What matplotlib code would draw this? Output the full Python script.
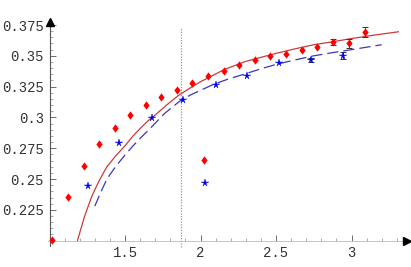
import matplotlib
matplotlib.use('Agg')
import matplotlib.pyplot as plt
from matplotlib.ticker import FixedLocator

# --- data ---
red_x = [1.017, 1.122, 1.226, 1.328, 1.432, 1.535, 1.637, 1.740, 1.844, 1.946, 2.050,
         2.154, 2.256, 2.361, 2.462, 2.568, 2.670, 2.774, 2.877, 2.981, 3.087]
red_y = [0.2005, 0.2354, 0.2603, 0.2787, 0.2914, 0.3020, 0.3098, 0.3163, 0.3225, 0.3282,
         0.3334, 0.3377, 0.3428, 0.3466, 0.3501, 0.3517, 0.3547, 0.3571, 0.3612, 0.3601, 0.3693]
red_err = [0, 0, 0, 0, 0, 0, 0, 0, 0, 0, 0, 0, 0, 0, 0, 0, 0, 0, 0.0025, 0.0037, 0.0043]

blue_x = [1.255, 1.462, 1.677, 1.886, 2.101, 2.308, 2.518, 2.732, 2.946]
blue_y = [0.2443, 0.2790, 0.2998, 0.3141, 0.3261, 0.3339, 0.3439, 0.3466, 0.3501]
blue_err = [0, 0, 0, 0, 0, 0, 0, 0.0019, 0.0028]

# isolated points near x = 2
red_out = (2.023, 0.2652)
blue_out = (2.030, 0.2470)

# fitted curves
red_fit_x = [1.185, 1.23, 1.28, 1.33, 1.38, 1.44, 1.50, 1.55, 1.60, 1.65, 1.70, 1.78, 1.85,
             1.92, 2.00, 2.08, 2.16, 2.30, 2.50, 2.62, 2.75, 2.88, 3.00, 3.15, 3.31]
red_fit_y = [0.200, 0.219, 0.236, 0.249, 0.260, 0.269, 0.277, 0.2845, 0.291, 0.297, 0.302,
             0.3105, 0.3175, 0.323, 0.329, 0.334, 0.339, 0.3455, 0.352, 0.3555, 0.359,
             0.3615, 0.364, 0.3668, 0.3695]

blue_fit_x = [1.30, 1.34, 1.38, 1.44, 1.50, 1.55, 1.60, 1.67, 1.76, 1.86, 1.93, 2.00, 2.09,
              2.18, 2.30, 2.40, 2.50, 2.62, 2.75, 2.88, 3.00, 3.10, 3.20]
blue_fit_y = [0.228, 0.2395, 0.250, 0.2605, 0.2695, 0.2765, 0.283, 0.2915, 0.303, 0.313,
              0.318, 0.322, 0.327, 0.331, 0.3355, 0.3395, 0.343, 0.3465, 0.350, 0.3527,
              0.355, 0.357, 0.359]

x_cut = 1.87

x_major = [1.5, 2.0, 2.5, 3.0]
x_labels = ['1.5', '2', '2.5', '3']
y_major = [0.225, 0.25, 0.275, 0.3, 0.325, 0.35, 0.375]
y_labels = ['0.225', '0.25', '0.275', '0.3', '0.325', '0.35', '0.375']

x0, y0 = 1.0, 0.2

diamond = [(0, 1), (0.75, 0), (0, -1), (-0.75, 0), (0, 1)]

fig = plt.figure(figsize=(4.11, 2.67), dpi=100)
ax = fig.add_axes([0, 0, 1, 1])
ax.set_xlim(0.672, 3.394)
ax.set_ylim(0.1786, 0.3953)

# Mathematica-style crossing axes
for s in ['top', 'right']:
    ax.spines[s].set_visible(False)
ax.spines['left'].set_position(('data', x0))
ax.spines['bottom'].set_position(('data', y0))
ax.spines['left'].set_bounds(0.196, 0.377)
ax.spines['bottom'].set_bounds(0.99, 3.36)
ax.spines['left'].set_color('#555555')
ax.spines['bottom'].set_color('#bbbbbb')
ax.spines['left'].set_linewidth(0.8)
ax.spines['bottom'].set_linewidth(0.6)
ax.plot(x0, 0.3772, marker='^', ms=6, color='black', clip_on=False, zorder=5)
ax.plot(3.365, y0, marker='>', ms=6, color='black', clip_on=False, zorder=5)

ax.xaxis.set_major_locator(FixedLocator(x_major))
ax.set_xticklabels(x_labels)
ax.yaxis.set_major_locator(FixedLocator(y_major))
ax.set_yticklabels(y_labels)
ax.xaxis.set_minor_locator(FixedLocator([1.1, 1.2, 1.3, 1.4, 1.6, 1.7, 1.8, 1.9, 2.1, 2.2, 2.3,
                                         2.4, 2.6, 2.7, 2.8, 2.9, 3.1, 3.2, 3.3]))
ax.yaxis.set_minor_locator(FixedLocator([0.205, 0.21, 0.215, 0.22, 0.23, 0.235, 0.24, 0.245,
                                         0.255, 0.26, 0.265, 0.27, 0.28, 0.285, 0.29, 0.295,
                                         0.305, 0.31, 0.315, 0.32, 0.33, 0.335, 0.34, 0.345,
                                         0.355, 0.36, 0.365, 0.37]))
ax.tick_params(which='major', direction='in', length=4, width=0.6, color='#555555',
               labelsize=10, labelcolor='#333333', pad=4)
ax.tick_params(which='minor', direction='in', length=2, width=0.5, color='#888888')
for lab in ax.get_xticklabels() + ax.get_yticklabels():
    lab.set_family('Liberation Mono')

# threshold line
ax.plot([x_cut, x_cut], [0.195, 0.3734], ls=(0, (1, 1.2)), lw=0.9, color='#999999')

# fits
ax.plot(red_fit_x, red_fit_y, color='#cc3a3a', lw=0.9)
ax.plot(blue_fit_x, blue_fit_y, color='#3838b8', lw=0.9, ls=(0, (9, 4)))

# error bars only where they exist
for xs, ys, es in [(red_x, red_y, red_err), (blue_x, blue_y, blue_err)]:
    ex = [x for x, e in zip(xs, es) if e > 0]
    ey = [y for y, e in zip(ys, es) if e > 0]
    ee = [e for e in es if e > 0]
    ax.errorbar(ex, ey, yerr=ee, fmt='none', ecolor='#333333',
                elinewidth=0.7, capsize=2.5, capthick=0.7, zorder=3)

# data
ax.plot(red_x, red_y, ls='none', marker=diamond, ms=6, color='#ff0000', mew=0,
        clip_on=False, zorder=4)
ax.plot(blue_x, blue_y, ls='none', marker='*', ms=5.5, color='#0000ee', mew=0.3, zorder=4)
ax.plot(*red_out, marker=diamond, ms=6, color='#ff0000', mew=0, zorder=4)
ax.plot(*blue_out, marker='*', ms=5.5, color='#0000ee', mew=0.3, zorder=4)

fig.savefig('out.png', dpi=100)
